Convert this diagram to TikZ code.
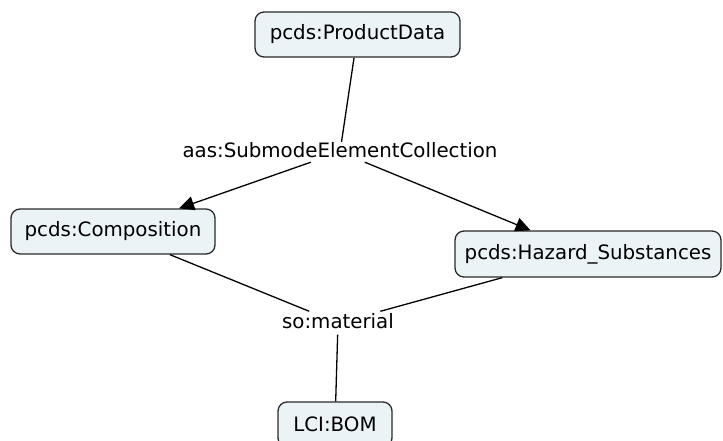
\documentclass[tikz,border=0pt]{standalone}
\usepackage{fontspec}
\setmainfont{DejaVu Sans}
\usetikzlibrary{arrows.meta}
\definecolor{boxfill}{HTML}{ECF3F6}
\definecolor{boxline}{HTML}{2A2A2A}
\tikzset{
  concept/.style={draw=boxline, fill=boxfill, line width=1.3pt, rounded corners=9pt,
    inner sep=0pt, minimum height=45pt, font=\fontsize{19.8}{24}\selectfont},
  linklabel/.style={inner sep=0pt, text height=15.5pt, text depth=4.5pt,
    font=\fontsize{19.8}{24}\selectfont},
  conn/.style={line width=1.3pt, black},
  arr/.style={conn, -{Triangle[length=15pt,width=14pt]}}
}
\begin{document}
\begin{tikzpicture}[x=1pt,y=-1pt]
\useasboundingbox (0,0) rectangle (723,441);
\clip (0,0) rectangle (723,441);
\node[concept, minimum width=205pt] (pd) at (357.5,34.5) {pcds:ProductData};
\node[linklabel] (aas) at (340,152) {aas:SubmodeElementCollection};
\node[concept, minimum width=204pt] (comp) at (113,231.5) {pcds:Composition};
\node[concept, minimum width=266pt, minimum height=46pt] (haz) at (588,254) {pcds:Hazard\_Substances};
\node[linklabel, inner ysep=1.5pt] (mat) at (338,323) {so:material};
\node[concept, minimum width=114pt] (bom) at (335,424.5) {LCI:BOM};
\draw[conn] (pd) -- (aas);
\draw[arr] (aas) -- (comp);
\draw[arr] (aas) -- (haz);
\draw[conn] (comp) -- (mat);
\draw[conn] (haz) -- (mat);
\draw[conn] (mat) -- (bom);
\end{tikzpicture}
\end{document}
